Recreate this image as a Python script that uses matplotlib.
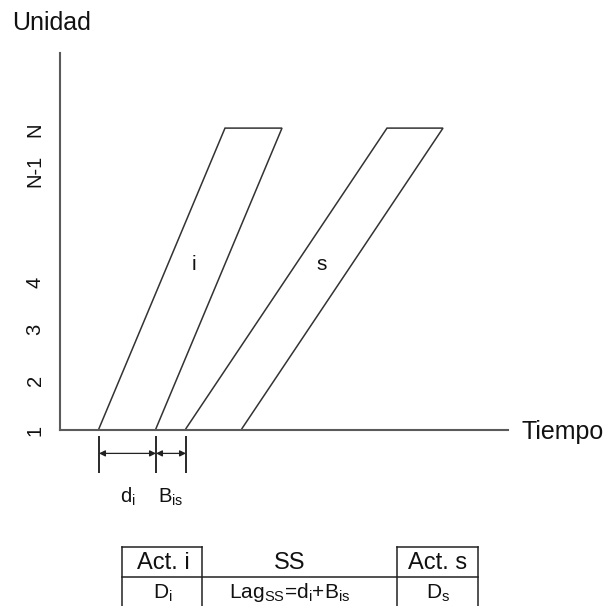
import matplotlib
matplotlib.use('Agg')
import matplotlib.pyplot as plt

plt.rcParams['font.family'] = ['Liberation Sans', 'DejaVu Sans']
plt.rcParams['mathtext.fontset'] = 'custom'
plt.rcParams['mathtext.rm'] = 'Liberation Sans'
plt.rcParams['mathtext.it'] = 'Liberation Sans:italic'
plt.rcParams['mathtext.bf'] = 'Liberation Sans:bold'

# ---- data ----
unit_labels = ['1', '2', '3', '4', 'N-1', 'N']
unit_positions = [0.97, 1.95, 2.97, 3.92, 6.15, 6.96]
n_units = 7
activity_names = ['i', 's']
first_unit_start = [3.9, 12.6]   # start time of unit 1
last_unit_start = [16.5, 32.7]   # start time of unit N
unit_duration = [5.7, 5.6]       # duration per unit
time_max = 44.8
unit_axis_max = 8.5

table_header = ['Act. i', 'SS', 'Act. s']
table_row = [r'D$_\mathregular{i}$',
             r'Lag$_\mathregular{SS}$=d$_\mathregular{i}$+B$_\mathregular{is}$',
             r'D$_\mathregular{s}$']
dim_labels = [r'd$_\mathregular{i}$', r'B$_\mathregular{is}$']

W, H = 608, 606
fig = plt.figure(figsize=(W / 100, H / 100), dpi=100)


def frac(x0, y0, x1, y1):
    return [x0 / W, 1 - y1 / H, (x1 - x0) / W, (y1 - y0) / H]


ax = fig.add_axes(frac(60, 53, 508, 430))
ax.set_xlim(0, time_max)
ax.set_ylim(1, unit_axis_max)
ax.patch.set_visible(False)
for sp in ['top', 'right']:
    ax.spines[sp].set_visible(False)
for sp in ['left', 'bottom']:
    ax.spines[sp].set_color('#5a5a5a')
    ax.spines[sp].set_linewidth(1.5)
ax.set_xticks([])
ax.set_yticks(unit_positions)
ax.set_yticklabels(unit_labels, rotation=90, va='center', ha='center',
                   fontsize=14.5, color='#111111')
ax.tick_params(axis='y', length=0, pad=18)

line_c = '#333333'
label_y = 4.28
for name, f, l, d in zip(activity_names, first_unit_start, last_unit_start, unit_duration):
    xs = [f, l, l + d, f + d]
    ys = [1, n_units, n_units, 1]
    ax.plot(xs, ys, color=line_c, lw=1.1, clip_on=False,
            solid_joinstyle='miter', zorder=1)
    left = f + (label_y - 1) / (n_units - 1) * (l - f)
    ax.text(left + d / 2 - 0.2, label_y, name, ha='center', va='center',
            fontsize=15, color='#111111')

# dimension lines below the time axis
px = 1 / 50.27
tick_top, tick_bot, arr_y, lab_y = 1 - 8 * px, 1 - 45 * px, 1 - 25 * px, 1 - 69 * px
marks = [first_unit_start[0], first_unit_start[0] + unit_duration[0], first_unit_start[1]]
for xm in marks:
    ax.plot([xm, xm], [tick_top, tick_bot], color='#2a2a2a', lw=1.4,
            clip_on=False, solid_capstyle='butt')
for (x0, x1), lab in zip(zip(marks[:-1], marks[1:]), dim_labels):
    ax.annotate('', xy=(x1, arr_y), xytext=(x0, arr_y), annotation_clip=False,
                arrowprops=dict(arrowstyle='<|-|>', lw=0.9, color='#222222',
                                shrinkA=0, shrinkB=0, mutation_scale=9))
    ax.text((x0 + x1) / 2, lab_y, lab, ha='center', va='center',
            fontsize=14.5, color='#111111')

fig.text(12 / W, 1 - 23 / H, 'Unidad', ha='left', va='center', fontsize=18, color='#111111')
fig.text(522 / W, 1 - 432 / H, 'Tiempo', ha='left', va='center', fontsize=18, color='#111111')

# table
tx = fig.add_axes([0, 0, 1, 1])
tx.set_xlim(0, W)
tx.set_ylim(H, 0)
tx.axis('off')
tx.patch.set_visible(False)
col_edges = [122, 202, 397, 478]
y_top, y_mid, y_bot = 547, 577, 610
tc = '#222222'
tl = 1.1
for j in (0, 2):
    tx.plot([col_edges[j], col_edges[j + 1]], [y_top, y_top], color=tc, lw=tl)
tx.plot([col_edges[0], col_edges[-1]], [y_mid, y_mid], color=tc, lw=tl)
for xe in col_edges:
    tx.plot([xe, xe], [y_top, y_bot], color=tc, lw=tl, clip_on=False)
centers = [163, 290, 438]
for c, h, r in zip(centers, table_header, table_row):
    tx.text(c, 563, h, ha='center', va='center', fontsize=17, color='#111111')
    tx.text(c, 593, r, ha='center', va='center', fontsize=15, color='#111111')

fig.savefig('out.png', dpi=100)
